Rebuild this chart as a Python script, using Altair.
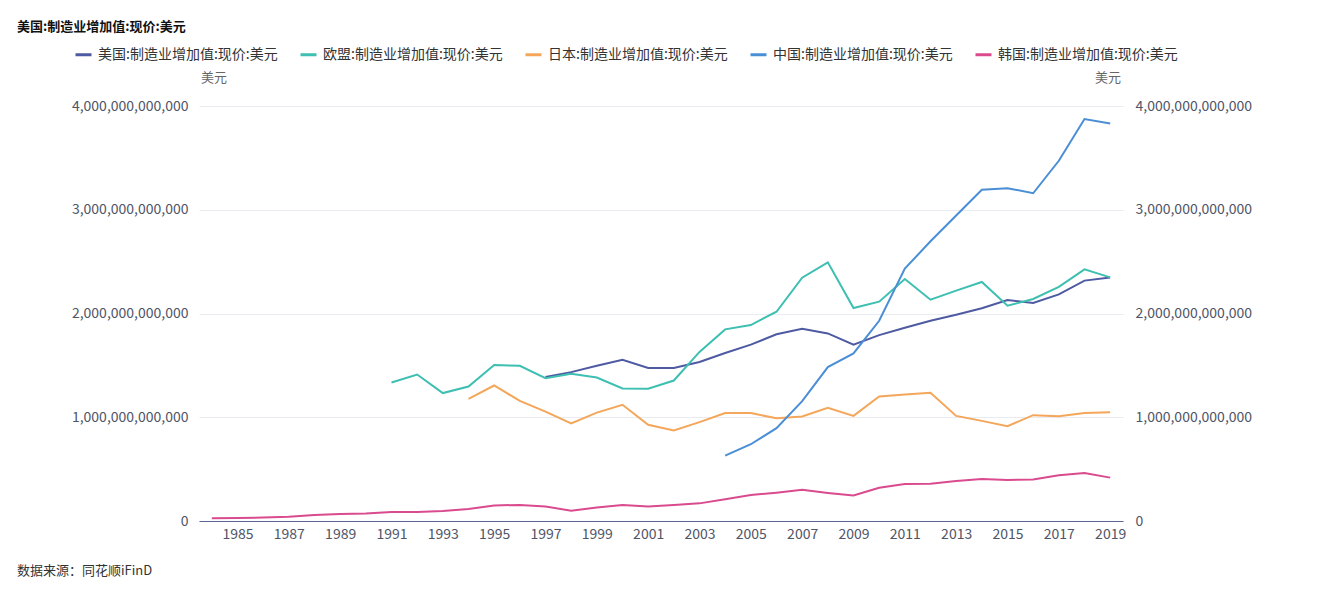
import altair as alt
import pandas as pd

years = list(range(1984, 2020))
series_names = ["美国:制造业增加值:现价:美元", "欧盟:制造业增加值:现价:美元", "日本:制造业增加值:现价:美元",
                "中国:制造业增加值:现价:美元", "韩国:制造业增加值:现价:美元"]
colors = ["#4e5aa2", "#3dbfb1", "#f4a65a", "#4a8ed6", "#d94b8e"]

# values in trillions of USD
us_start = 1997
us = [1.387, 1.435, 1.496, 1.554, 1.474, 1.474, 1.532, 1.619, 1.70, 1.80, 1.853, 1.808, 1.699,
      1.792, 1.863, 1.93, 1.988, 2.05, 2.13, 2.101, 2.184, 2.317, 2.348]
eu_start = 1991
eu = [1.335, 1.412, 1.233, 1.296, 1.503, 1.496, 1.377, 1.419, 1.383, 1.277, 1.274, 1.354, 1.63,
      1.847, 1.889, 2.017, 2.345, 2.493, 2.053, 2.114, 2.333, 2.133, 2.22, 2.304, 2.075, 2.14,
      2.256, 2.426, 2.348]
jp_start = 1994
jp = [1.178, 1.306, 1.158, 1.055, 0.94, 1.045, 1.12, 0.927, 0.872, 0.953, 1.04, 1.04, 0.99,
      1.007, 1.09, 1.013, 1.2, 1.22, 1.235, 1.013, 0.965, 0.914, 1.02, 1.01, 1.042, 1.049]
cn_start = 2004
cn = [0.63, 0.74, 0.895, 1.155, 1.483, 1.615, 1.93, 2.432, 2.696, 2.944, 3.192, 3.208, 3.159,
      3.472, 3.874, 3.832]
kr_start = 1984
kr = [0.026, 0.028, 0.034, 0.042, 0.058, 0.068, 0.072, 0.087, 0.087, 0.097, 0.116, 0.15, 0.155,
      0.14, 0.10, 0.13, 0.155, 0.14, 0.155, 0.17, 0.21, 0.25, 0.273, 0.30, 0.27, 0.245, 0.32,
      0.357, 0.36, 0.386, 0.405, 0.396, 0.40, 0.44, 0.463, 0.418]

y_ticks = [0, 1e12, 2e12, 3e12, 4e12]
x_label_years = list(range(1985, 2020, 2))

title_text = "美国:制造业增加值:现价:美元"
unit_text = "美元"
source_text = "数据来源：同花顺iFinD"

rows = []
for name, start, vals in zip(series_names, [us_start, eu_start, jp_start, cn_start, kr_start],
                             [us, eu, jp, cn, kr]):
    for i, v in enumerate(vals):
        rows.append({"year": start + i, "series": name, "value": v * 1e12})
df = pd.DataFrame(rows)

FONT = "Noto Sans CJK SC"
W, H = 924, 415
LABEL_COLOR = "#4f5567"

x_enc = alt.X("year:O", scale=alt.Scale(domain=years, paddingOuter=0.5),
              axis=alt.Axis(title=None, values=x_label_years, labelAngle=0, ticks=False,
                            domainColor="#5b6494", labelColor=LABEL_COLOR, labelFontSize=14,
                            labelFont=FONT, labelPadding=6, grid=False))

lines = alt.Chart(df).mark_line(strokeWidth=2).encode(
    x=x_enc,
    y=alt.Y("value:Q", scale=alt.Scale(domain=[0, 4e12], nice=False),
            axis=alt.Axis(title=None, values=y_ticks, format=",d", orient="left",
                          domain=False, ticks=False, labelFontSize=14, labelFont=FONT,
                          labelColor=LABEL_COLOR, labelPadding=11, gridColor="#e9ebf3")),
    color=alt.Color("series:N", scale=alt.Scale(domain=series_names, range=colors),
                    legend=alt.Legend(title=None, orient="none", direction="horizontal",
                                      legendX=-125, legendY=-61, symbolType="stroke",
                                      symbolSize=256, symbolStrokeWidth=3, labelFontSize=14,
                                      labelFont=FONT, labelColor="#333333", columnPadding=16,
                                      symbolOffset=0, labelOffset=5, labelLimit=400)),
)

right = alt.Chart(df[df["series"] == series_names[4]]).mark_line(opacity=0).encode(
    x=x_enc,
    y=alt.Y("value:Q", scale=alt.Scale(domain=[0, 4e12], nice=False),
            axis=alt.Axis(title=None, values=y_ticks, format=",d", orient="right",
                          domain=False, ticks=False, grid=False, labelFontSize=14,
                          labelFont=FONT, labelColor=LABEL_COLOR, labelPadding=12)),
)


def text_layer(txt, x, y, size, color, weight="normal", align="left"):
    return alt.Chart(pd.DataFrame({"t": [txt]})).mark_text(
        font=FONT, fontSize=size, color=color, fontWeight=weight, align=align,
        baseline="middle").encode(x=alt.value(x), y=alt.value(y), text="t:N")


title = text_layer(title_text, -182, -79, 13, "#111111", "bold")
unit_l = text_layer(unit_text, 15, -28, 13, "#666666", align="center")
unit_r = text_layer(unit_text, 909, -28, 13, "#666666", align="center")
source = text_layer(source_text, -182, 465, 13, "#333333")

chart = alt.layer(lines, right, title, unit_l, unit_r, source).resolve_scale(
    y="independent").properties(
    width=W, height=H, autosize="none", background="white",
    padding={"left": 191, "top": 98, "right": 192, "bottom": 69},
).configure_view(strokeWidth=0, stroke="transparent")

chart.save("out.html", embed_options={"renderer": "svg", "actions": False})
